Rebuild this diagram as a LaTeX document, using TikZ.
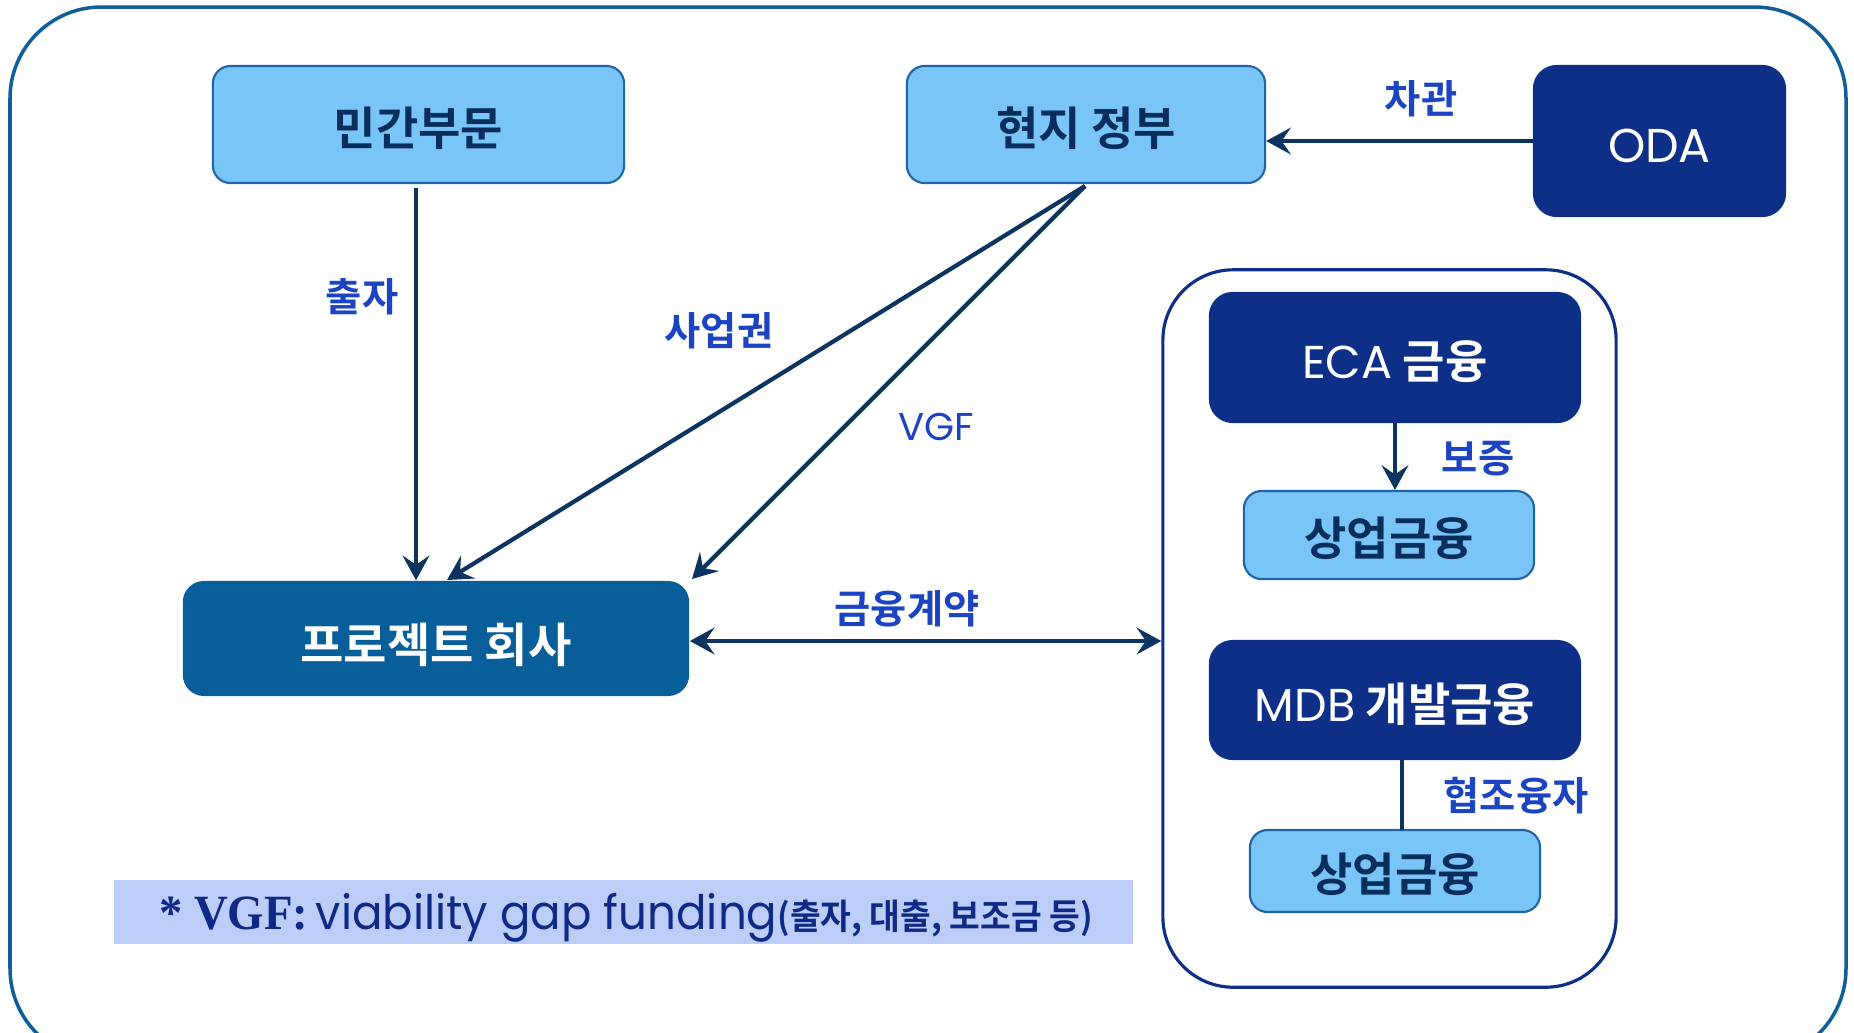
\documentclass[tikz,border=0pt]{standalone}
\usepackage{fontspec}
\setmainfont{Noto Sans CJK KR}
\newfontfamily\kr{Noto Sans CJK KR}
\newfontfamily\krb{Noto Sans CJK KR Bold}
\newfontfamily\lat{Poppins}
\newfontfamily\tms{Liberation Serif}
\usetikzlibrary{arrows.meta,calc}
\definecolor{lightbox}{HTML}{7AC5F8}
\definecolor{lightedge}{HTML}{1F63A8}
\definecolor{navy}{HTML}{0E2F87}
\definecolor{projblue}{HTML}{075E99}
\definecolor{lblblue}{HTML}{1B43C2}
\definecolor{arrowc}{HTML}{0B3461}
\definecolor{darktext}{HTML}{0A2E5C}
\definecolor{framec}{HTML}{0E5E9B}
\definecolor{footfill}{HTML}{BCCDF7}
\definecolor{foottext}{HTML}{0E2A86}
\tikzset{
  lightnode/.style={draw=lightedge, line width=0.6pt, fill=lightbox, rounded corners=5pt,
    text=darktext, font=\krb\fontsize{13.1}{15}\selectfont, inner sep=0pt,
    text height=11.8pt, text depth=0pt},
  navynode/.style={draw=navy, line width=0.6pt, fill=navy, rounded corners=6.5pt,
    text=white, font=\krb\fontsize{13.1}{15}\selectfont, inner sep=0pt,
    text height=12.1pt, text depth=0pt},
  projnode/.style={fill=projblue, rounded corners=6pt,
    text=white, font=\krb\fontsize{13.4}{15}\selectfont, inner sep=0pt,
    text height=13.4pt, text depth=0pt},
  lbl/.style={text=lblblue, font=\krb\fontsize{11.2}{13}\selectfont, inner sep=1pt},
  conn/.style={draw=arrowc, line width=1.2pt},
  arr/.style={conn, -{Stealth[length=7pt, width=7.6pt, inset=2.6pt]}},
  darr/.style={conn, {Stealth[length=7pt, width=7.6pt, inset=2.6pt]}-{Stealth[length=7pt, width=7.6pt, inset=2.6pt]}},
}
\begin{document}
\begin{tikzpicture}[x=0.01cm, y=-0.01cm]
\useasboundingbox (0,0) rectangle (1854,1032);
% outer frame
\draw[framec, line width=1pt, rounded corners=26pt] (10,7) rectangle (1846,1060);
% inner container
\node[draw=navy, line width=0.9pt, rounded corners=20pt, minimum width=4.53cm, minimum height=7.17cm, inner sep=0pt] (cont) at (1389.5,628.5) {};
% nodes
\node[lightnode, minimum width=4.11cm, minimum height=1.17cm] (minkan) at (418.5,124.5) {민간부문};
\node[lightnode, minimum width=3.58cm, minimum height=1.17cm] (hyunji) at (1086,124.5) {현지 정부};
\node[navynode, minimum width=2.51cm, minimum height=1.50cm, font=\lat\fontsize{13.5}{15}\selectfont, text height=12.2pt] (oda) at (1659.5,141) {ODA};
\node[projnode, minimum width=5.06cm, minimum height=1.15cm] (proj) at (436,638.5) {프로젝트 회사};
\node[navynode, minimum width=3.70cm, minimum height=1.29cm] (eca) at (1395,357.5) {{\lat ECA} 금융};
\node[lightnode, minimum width=2.90cm, minimum height=0.88cm] (com1) at (1389,535) {상업금융};
\node[navynode, minimum width=3.70cm, minimum height=1.18cm] (mdb) at (1395,700) {{\lat MDB} 개발금융};
\node[lightnode, minimum width=2.90cm, minimum height=0.82cm] (com2) at (1395,871) {상업금융};
% footnote
\node[fill=footfill, minimum width=10.19cm, minimum height=0.64cm, inner sep=0pt] (foot) at (623.5,912) {};
\node[text=foottext, inner sep=0pt] (foottxt) at (626,918) {\scalebox{0.95}[1]{{\tms\bfseries\fontsize{14}{16}\selectfont * VGF:} {\lat\fontsize{13.5}{16}\selectfont viability gap funding}{\krb\fontsize{10}{12}\selectfont(출자, 대출, 보조금 등)}}};
% coordinates
\coordinate (hs) at (1085,186);
\coordinate (p1) at (447,580);
\coordinate (p2) at (692,579);
\coordinate (m1) at (1402,759);
\coordinate (m2) at (1402,830);
% connectors
\draw[arr] (oda.west) -- (oda.west -| hyunji.east);
\draw[arr] ($(minkan.south)+(-2.5,4)$) -- ($(minkan.south |- proj.north)+(-2.5,0)$);
\draw[arr] (hs) -- (p1);
\draw[arr] (hs) -- (p2);
\draw[darr] (proj.east |- 0,641) -- (cont.west |- 0,641);
\draw[arr] (eca.south) -- (eca.south |- com1.north);
\draw[conn] (m1) -- (m2);
% labels
\node[lbl] (l1) at (1421,99) {차관};
\node[lbl] (l2) at (362,297) {출자};
\node[lbl] (l3) at (719,331) {사업권};
\node[lbl, font=\lat\fontsize{11}{12}\selectfont] (l4) at (936,427) {VGF};
\node[lbl] (l5) at (907,609) {금융계약};
\node[lbl] (l6) at (1478,459) {보증};
\node[lbl] (l7) at (1516,796) {협조융자};
\end{tikzpicture}
\end{document}
